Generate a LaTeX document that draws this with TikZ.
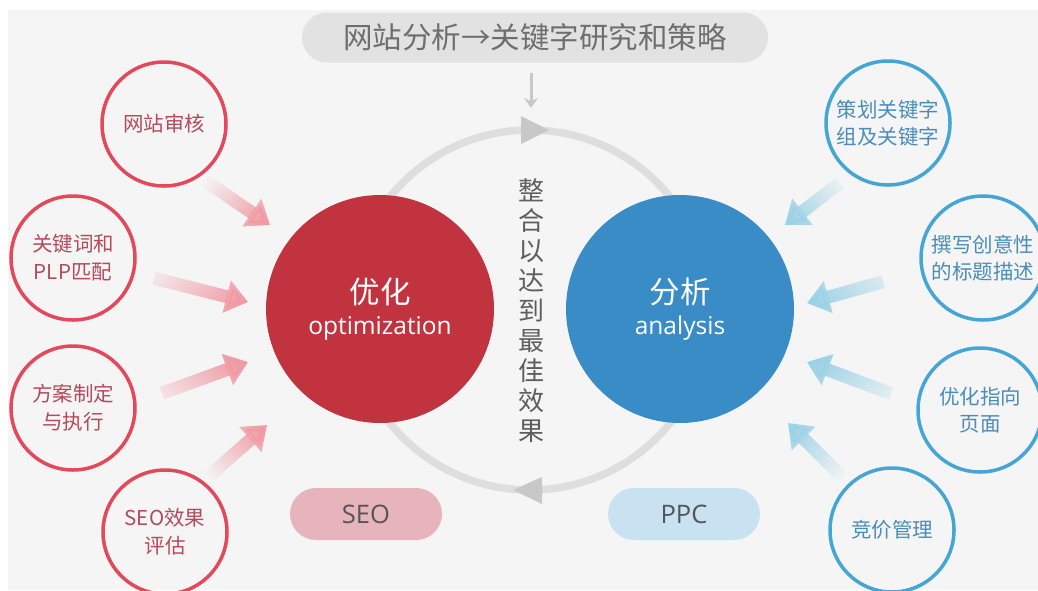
\documentclass[tikz,border=0pt]{standalone}
\usepackage{fontspec}
\newfontfamily\cjk{Noto Sans CJK SC}
\newfontfamily\lat{Open Sans}
\usetikzlibrary{arrows.meta,fadings}
\definecolor{bgc}{HTML}{F5F5F5}
\definecolor{bannerc}{HTML}{E2E2E2}
\definecolor{bannertext}{HTML}{6E6E6E}
\definecolor{ringc}{HTML}{DEDEDE}
\definecolor{trigc}{HTML}{C8C8C8}
\definecolor{redbig}{HTML}{C1343F}
\definecolor{bluebig}{HTML}{3A8CC6}
\definecolor{redline}{HTML}{E24A5C}
\definecolor{blueline}{HTML}{45A6D6}
\definecolor{redtext}{HTML}{B44A5A}
\definecolor{bluetext}{HTML}{4A8DB8}
\definecolor{pinkarrow}{HTML}{F09AA4}
\definecolor{bluearrow}{HTML}{9CD2E6}
\definecolor{seoc}{HTML}{E8B4BC}
\definecolor{ppcc}{HTML}{C8E2F2}
\definecolor{pilltext}{HTML}{555555}
\definecolor{verttext}{HTML}{5E5E5E}
\tikzset{
  banner/.style={rectangle, rounded corners=25pt, fill=bannerc, minimum width=466pt, minimum height=50pt, inner sep=0pt, text=bannertext, font=\cjk\fontsize{29.5}{30}\selectfont},
  bigcirc/.style={circle, minimum size=228pt, inner sep=0pt, text=white, align=center, font=\lat\fontsize{24.5}{31}\selectfont},
  redsmall/.style={circle, draw=redline, line width=3.5pt, minimum size=124pt, inner sep=0pt, text=redtext, align=center, font=\cjk\fontsize{20.5}{28}\selectfont},
  bluesmall/.style={circle, draw=blueline, line width=3.5pt, minimum size=124pt, inner sep=0pt, text=bluetext, align=center, font=\cjk\fontsize{20.5}{27.5}\selectfont},
  pill/.style={rectangle, rounded corners=26pt, minimum width=152pt, minimum height=52pt, inner sep=0pt, text=pilltext, font=\lat\fontsize{25.5}{28}\selectfont},
  ringstyle/.style={draw=ringc, line width=7.5pt},
  trig/.style={fill=trigc},
  downarrow/.style={draw=trigc, line width=3pt, -{Stealth[length=10pt,width=14pt]}},
  pinkarr/.style={draw=pinkarrow, line width=13pt, -{Triangle[length=22pt,width=32pt]}, path fading=west},
  bluearr/.style={draw=bluearrow, line width=13pt, -{Triangle[length=22pt,width=32pt]}, path fading=west},
}
\begin{document}
\begin{tikzpicture}[x=1pt,y=-1pt]
\useasboundingbox (0,0) rectangle (1038,590);
\fill[white] (0,0) rectangle (1038,590);
\fill[bgc] (8,10) rectangle (1038,590);

% ring
\coordinate (rc) at (530,310);
\draw[ringstyle] (rc) circle (180);
\fill[trig] (521,116) -- (549,130) -- (521,144) -- cycle;
\fill[trig] (513,490) -- (542,477) -- (542,504) -- cycle;

% banner
\node[banner] (top) at (535,37.5) {网站分析→关键字研究和策略};
\coordinate (dtip) at (531,108);
\draw[downarrow] ([xshift=-4pt,yshift=-10pt]top.south) -- (dtip);

% big circles
\node[bigcirc, fill=redbig] (opt) at (380,309) {{\cjk\fontsize{30.5}{31}\selectfont 优化}\\optimization};
\node[bigcirc, fill=bluebig] (ana) at (680,309) {{\cjk\fontsize{30.5}{31}\selectfont 分析}\\analysis};

% vertical text
\node[text=verttext, align=center, font=\cjk\fontsize{26}{30}\selectfont, inner sep=0pt] (mid) at (531,311) {整\\合\\以\\达\\到\\最\\佳\\效\\果};

% pills
\node[pill, fill=seoc] (seo) at (366,514) {SEO};
\node[pill, fill=ppcc] (ppc) at (684,514) {PPC};

% small circles left
\node[redsmall] (L1) at (164,124) {网站审核};
\node[redsmall] (L2) at (73,258) {关键词和\\PLP匹配};
\node[redsmall] (L3) at (73,408) {方案制定\\与执行};
\node[redsmall] (L4) at (165,532) {SEO效果\\评估};

% small circles right
\node[bluesmall] (R1) at (888,123) {策划关键字\\组及关键字};
\node[bluesmall] (R2) at (983,258) {撰写创意性\\的标题描述};
\node[bluesmall] (R3) at (980,410) {优化指向\\页面};
\node[bluesmall] (R4) at (892,530) {竞价管理};

% arrow tips
\coordinate (t1) at (270,225);
\coordinate (t2) at (248,302);
\coordinate (t3) at (248,362);
\coordinate (t4) at (267,425);
\coordinate (s1) at (785,225);
\coordinate (s2) at (807,303);
\coordinate (s3) at (807,362);
\coordinate (s4) at (788,423);

\draw[pinkarr, fading angle=-34] (L1.-56) -- (t1);
\draw[pinkarr, fading angle=-14, shorten <=20pt] (L2.-14) -- (t2);
\draw[pinkarr, fading angle=24, shorten <=27pt] (L3.5) -- (t3);
\draw[pinkarr, fading angle=41, shorten <=5pt] (L4.53) -- (t4);

\draw[bluearr, fading angle=-145, shorten <=13pt] (R1.-126) -- (s1);
\draw[bluearr, fading angle=-163, shorten <=39pt] (R2.-168) -- (s2);
\draw[bluearr, fading angle=155, shorten <=27pt] (R3.174) -- (s3);
\draw[bluearr, fading angle=135, shorten <=9pt] (R4.133) -- (s4);
\end{tikzpicture}
\end{document}
